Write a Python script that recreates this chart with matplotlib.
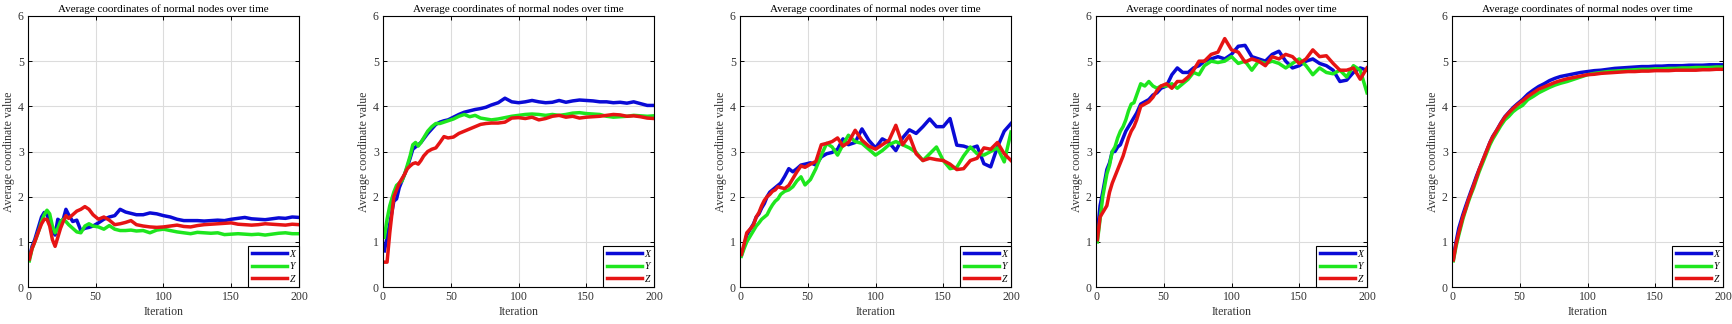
import matplotlib
matplotlib.use('Agg')
import matplotlib.pyplot as plt

plt.rcParams['font.family'] = ['Liberation Serif', 'DejaVu Serif']

iters = [1, 3, 5, 8, 10, 12, 14, 16, 18, 20, 22, 24, 26, 28, 30, 33, 36, 39, 42, 45,
         48, 52, 56, 60, 64, 68, 72, 76, 80, 85, 90, 95, 100, 105, 110, 115, 120, 125,
         130, 135, 140, 145, 150, 155, 160, 165, 170, 175, 180, 185, 190, 195, 200]

# run 1
x1 = [0.65, 0.9, 1.05, 1.35, 1.55, 1.65, 1.6, 1.45, 1.25, 1.15, 1.5, 1.45, 1.5, 1.72, 1.6, 1.45, 1.48, 1.25, 1.3, 1.32,
      1.35, 1.42, 1.5, 1.55, 1.58, 1.72, 1.66, 1.63, 1.6, 1.6, 1.64, 1.62, 1.58, 1.55, 1.5, 1.47, 1.47, 1.47, 1.46, 1.47,
      1.48, 1.47, 1.5, 1.52, 1.54, 1.51, 1.5, 1.49, 1.51, 1.53, 1.52, 1.55, 1.54]
y1 = [0.58, 0.85, 1.0, 1.25, 1.45, 1.6, 1.7, 1.62, 1.35, 1.2, 1.3, 1.45, 1.5, 1.45, 1.38, 1.3, 1.22, 1.2, 1.35, 1.4,
      1.35, 1.33, 1.28, 1.36, 1.28, 1.25, 1.25, 1.26, 1.24, 1.25, 1.2, 1.26, 1.28, 1.25, 1.22, 1.2, 1.18, 1.21, 1.2, 1.19,
      1.2, 1.16, 1.17, 1.18, 1.17, 1.16, 1.17, 1.15, 1.17, 1.19, 1.2, 1.18, 1.18]
z1 = [0.62, 0.85, 1.0, 1.25, 1.4, 1.5, 1.5, 1.35, 1.05, 0.9, 1.1, 1.3, 1.45, 1.58, 1.52, 1.6, 1.68, 1.72, 1.78, 1.72,
      1.6, 1.5, 1.55, 1.48, 1.38, 1.4, 1.43, 1.47, 1.38, 1.35, 1.33, 1.32, 1.33, 1.35, 1.37, 1.34, 1.33, 1.36, 1.38, 1.39,
      1.4, 1.41, 1.42, 1.39, 1.38, 1.37, 1.38, 1.4, 1.39, 1.38, 1.37, 1.39, 1.38]

# run 2
x2 = [0.8, 1.1, 1.4, 1.9, 1.95, 2.2, 2.35, 2.5, 2.66, 2.85, 3.05, 3.1, 3.15, 3.2, 3.28, 3.4, 3.5, 3.6, 3.65, 3.68,
      3.7, 3.76, 3.82, 3.87, 3.9, 3.93, 3.95, 3.98, 4.03, 4.08, 4.18, 4.1, 4.08, 4.1, 4.13, 4.1, 4.08, 4.09, 4.13, 4.09,
      4.12, 4.14, 4.13, 4.12, 4.1, 4.1, 4.08, 4.09, 4.07, 4.1, 4.06, 4.02, 4.02]
y2 = [1.1, 1.5, 1.8, 2.1, 2.25, 2.3, 2.35, 2.5, 2.7, 2.9, 3.15, 3.2, 3.12, 3.2, 3.3, 3.45, 3.55, 3.62, 3.62, 3.65,
      3.68, 3.72, 3.78, 3.82, 3.77, 3.8, 3.74, 3.72, 3.7, 3.72, 3.75, 3.78, 3.8, 3.82, 3.83, 3.82, 3.8, 3.82, 3.8, 3.82,
      3.85, 3.86, 3.84, 3.83, 3.82, 3.78, 3.76, 3.77, 3.78, 3.8, 3.79, 3.78, 3.79]
z2 = [0.55, 0.55, 1.2, 2.0, 2.15, 2.3, 2.4, 2.5, 2.62, 2.68, 2.73, 2.75, 2.72, 2.8, 2.9, 3.0, 3.05, 3.08, 3.2, 3.33,
      3.3, 3.32, 3.4, 3.45, 3.5, 3.55, 3.6, 3.62, 3.63, 3.63, 3.65, 3.74, 3.75, 3.73, 3.76, 3.7, 3.73, 3.78, 3.8, 3.76,
      3.78, 3.74, 3.76, 3.77, 3.78, 3.8, 3.82, 3.81, 3.78, 3.79, 3.77, 3.74, 3.73]

# run 3
x3 = [0.7, 0.9, 1.15, 1.3, 1.4, 1.55, 1.62, 1.75, 1.85, 2.0, 2.1, 2.15, 2.2, 2.25, 2.3, 2.45, 2.62, 2.55, 2.62, 2.7,
      2.72, 2.75, 2.7, 2.88, 2.95, 2.98, 3.05, 3.28, 3.15, 3.2, 3.5, 3.25, 3.08, 3.28, 3.2, 3.02, 3.3, 3.48, 3.4, 3.55,
      3.72, 3.55, 3.55, 3.73, 3.14, 3.12, 3.07, 3.12, 2.73, 2.66, 3.1, 3.45, 3.62]
y3 = [0.68, 0.85, 1.0, 1.15, 1.25, 1.35, 1.42, 1.5, 1.55, 1.6, 1.72, 1.82, 1.9, 1.95, 2.05, 2.12, 2.15, 2.22, 2.35, 2.44,
      2.26, 2.38, 2.62, 2.92, 3.18, 3.1, 2.92, 3.15, 3.36, 3.22, 3.18, 3.05, 2.92, 3.02, 3.15, 3.22, 3.15, 3.08, 2.98, 2.8,
      2.95, 3.1, 2.8, 2.62, 2.65, 2.9, 3.1, 2.95, 2.92, 3.0, 3.08, 2.77, 3.43]
z3 = [0.72, 0.95, 1.2, 1.3, 1.38, 1.55, 1.65, 1.8, 1.92, 2.0, 2.05, 2.12, 2.15, 2.22, 2.2, 2.18, 2.25, 2.4, 2.55, 2.68,
      2.65, 2.72, 2.78, 3.15, 3.18, 3.22, 3.3, 3.12, 3.2, 3.47, 3.25, 3.12, 3.05, 3.15, 3.25, 3.58, 3.15, 3.35, 2.95, 2.8,
      2.85, 2.82, 2.8, 2.72, 2.6, 2.62, 2.8, 2.85, 3.08, 3.05, 3.2, 2.95, 2.8]

# run 4
x4 = [1.2, 1.8, 2.1, 2.6, 2.75, 3.0, 3.0, 3.1, 3.15, 3.3, 3.45, 3.55, 3.65, 3.75, 3.85, 4.05, 4.1, 4.15, 4.25, 4.3,
      4.4, 4.45, 4.7, 4.85, 4.75, 4.75, 4.85, 4.9, 5.0, 5.05, 5.1, 5.05, 5.15, 5.33, 5.35, 5.1, 5.05, 5.0, 5.15, 5.22,
      5.0, 4.85, 4.9, 5.0, 5.05, 4.95, 4.9, 4.8, 4.55, 4.58, 4.75, 4.85, 4.8]
y4 = [1.0, 1.5, 2.0, 2.5, 2.7, 3.0, 3.1, 3.3, 3.45, 3.55, 3.7, 3.9, 4.05, 4.08, 4.25, 4.5, 4.45, 4.55, 4.45, 4.4,
      4.45, 4.45, 4.5, 4.4, 4.5, 4.6, 4.75, 4.7, 4.9, 5.0, 4.97, 5.0, 5.1, 4.95, 5.0, 4.8, 5.0, 4.95, 5.0, 4.95,
      4.85, 4.95, 5.05, 4.9, 4.7, 4.85, 4.75, 4.72, 4.8, 4.65, 4.9, 4.8, 4.3]
z4 = [1.05, 1.55, 1.65, 1.8, 2.1, 2.3, 2.45, 2.6, 2.75, 2.9, 3.1, 3.3, 3.45, 3.55, 3.7, 4.0, 4.05, 4.1, 4.2, 4.35,
      4.45, 4.5, 4.4, 4.55, 4.55, 4.65, 4.8, 5.0, 5.0, 5.15, 5.2, 5.5, 5.25, 5.2, 4.98, 5.05, 5.0, 4.9, 5.1, 5.05,
      5.15, 5.1, 4.95, 5.05, 5.25, 5.1, 5.12, 4.95, 4.8, 4.8, 4.85, 4.6, 4.85]

# run 5
x5 = [0.65, 1.0, 1.3, 1.6, 1.78, 1.95, 2.12, 2.28, 2.45, 2.6, 2.75, 2.9, 3.05, 3.2, 3.33, 3.47, 3.63, 3.77, 3.87, 3.97,
      4.05, 4.15, 4.27, 4.36, 4.44, 4.5, 4.57, 4.62, 4.66, 4.69, 4.72, 4.75, 4.77, 4.79, 4.8, 4.82, 4.84, 4.85, 4.86, 4.87,
      4.88, 4.88, 4.89, 4.89, 4.9, 4.9, 4.9, 4.91, 4.91, 4.91, 4.92, 4.92, 4.92]
y5 = [0.58, 0.9, 1.15, 1.5, 1.7, 1.88, 2.05, 2.2, 2.38, 2.55, 2.7, 2.85, 3.0, 3.15, 3.27, 3.42, 3.57, 3.7, 3.78, 3.88,
      3.95, 4.02, 4.15, 4.22, 4.3, 4.36, 4.42, 4.47, 4.51, 4.55, 4.6, 4.65, 4.7, 4.73, 4.75, 4.77, 4.78, 4.79, 4.8, 4.81,
      4.82, 4.82, 4.83, 4.83, 4.84, 4.84, 4.85, 4.85, 4.86, 4.86, 4.86, 4.87, 4.87]
z5 = [0.6, 0.95, 1.2, 1.55, 1.72, 1.92, 2.08, 2.25, 2.42, 2.6, 2.75, 2.9, 3.05, 3.2, 3.32, 3.47, 3.62, 3.76, 3.86, 3.95,
      4.03, 4.12, 4.22, 4.3, 4.38, 4.43, 4.48, 4.53, 4.57, 4.61, 4.64, 4.67, 4.7, 4.71, 4.73, 4.74, 4.75, 4.76, 4.77, 4.77,
      4.78, 4.78, 4.79, 4.79, 4.79, 4.8, 4.8, 4.8, 4.8, 4.81, 4.81, 4.82, 4.82]

runs = [(x1, y1, z1), (x2, y2, z2), (x3, y3, z3), (x4, y4, z4), (x5, y5, z5)]
labels = ['X', 'Y', 'Z']
colors = ['#0a0ad6', '#1ee61e', '#e61414']

fig = plt.figure(figsize=(17.32, 3.24), dpi=100)
lefts = [28, 383, 740, 1096, 1452]

for left, run in zip(lefts, runs):
    ax = fig.add_axes([left / 1732, 37 / 324, 271 / 1732, 271 / 324])
    for vals, lab, col in zip(run, labels, colors):
        ax.plot(iters, vals, color=col, lw=2.5, label=lab)
    ax.set_xlim(0, 200)
    ax.set_ylim(0, 6)
    ax.set_xticks([0, 50, 100, 150, 200])
    ax.set_yticks([0, 1, 2, 3, 4, 5, 6])
    ax.grid(True, color='#dcdcdc', lw=0.8)
    ax.set_axisbelow(True)
    ax.tick_params(direction='in', top=True, right=True, length=3, width=0.7,
                   labelsize=8.5, labelcolor='#333333', pad=3)
    for sp in ax.spines.values():
        sp.set_linewidth(0.8)
    ax.set_title('Average coordinates of normal nodes over time', fontsize=8, pad=3)
    ax.set_xlabel('Iteration', fontsize=8.5, color='#333333', labelpad=2)
    ax.set_ylabel('Average coordinate value', fontsize=8.5, color='#333333', labelpad=2)
    leg = ax.legend(loc='lower right', prop={'style': 'italic', 'size': 7},
                    frameon=True, fancybox=False, edgecolor='black', framealpha=1,
                    borderaxespad=0, handlelength=3.6, handletextpad=0.3,
                    labelspacing=0.35, borderpad=0.35)
    leg.get_frame().set_linewidth(0.8)

fig.savefig('out.png', dpi=100)
